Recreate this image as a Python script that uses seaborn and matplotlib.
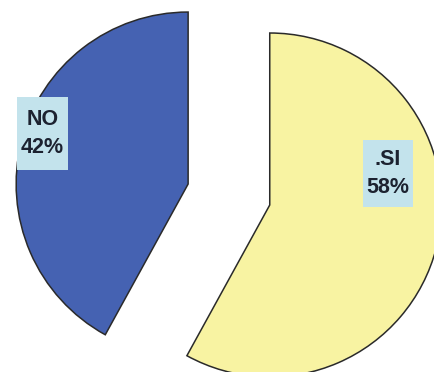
import matplotlib
matplotlib.use("Agg")
import matplotlib.pyplot as plt
from matplotlib.patches import Rectangle
import seaborn as sns

categories = [".SI", "NO"]
values = [58, 42]
pct_labels = ["58%", "42%"]

sns.set_theme(style="white")
plt.rcParams['font.family'] = ['Liberation Sans', 'DejaVu Sans']

colors = ["#F8F3A2", "#4562B2"]

fig = plt.figure(figsize=(4.35, 3.72), dpi=100)
ax = fig.add_axes([0, 0, 1, 1])
ax.pie(values, colors=colors, startangle=90, counterclock=False,
       explode=[0.245, 0.245], radius=1.0,
       wedgeprops=dict(edgecolor="#2a2a2a", linewidth=1.1))
ax.set_aspect("equal")
ax.set_xlim(-1.331, 1.198)
ax.set_ylim(-1.032, 1.131)
ax.axis("off")

# label boxes: (x0, y0, width, height) and text centre
label_boxes = [(0.779, -0.073, 0.291, 0.390), (-1.233, 0.142, 0.297, 0.425)]
for cat, pct, (x0, y0, w, h) in zip(categories, pct_labels, label_boxes):
    ax.add_patch(Rectangle((x0, y0), w, h, facecolor="#C3E3EC",
                           edgecolor="none", zorder=3))
    ax.text(x0 + w / 2, y0 + h / 2, f"{cat}\n{pct}", ha="center", va="center",
            fontsize=15.5, fontweight="bold", color="#1c2230",
            linespacing=1.45, zorder=4)

fig.savefig("out.png", dpi=100)
